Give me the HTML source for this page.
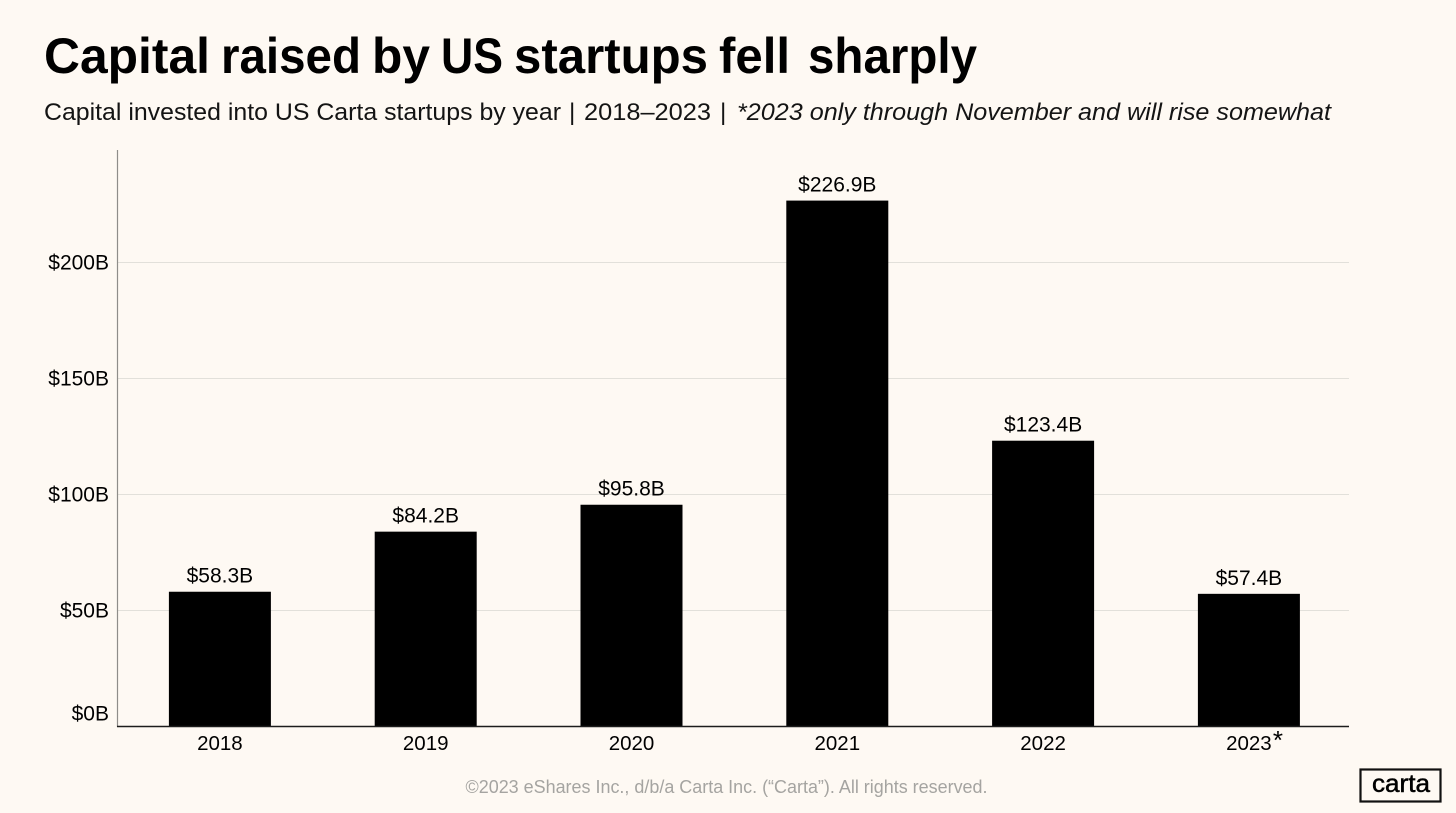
<!DOCTYPE html>
<html lang="en">
<head>
<meta charset="utf-8">
<title>Capital raised by US startups fell sharply</title>
<style>
html,body{margin:0;padding:0;background:#fef9f3;width:1456px;height:813px;overflow:hidden}
svg{display:block}
text{font-family:"Liberation Sans",sans-serif;fill:#000}
</style>
</head>
<body>
<svg id="chart" width="1456" height="813" viewBox="0 0 1456 813" xmlns="http://www.w3.org/2000/svg">
  <rect width="1456" height="813" fill="#fef9f3"/>
  <text y="73" font-size="50" font-weight="700"><tspan x="44" textLength="166" lengthAdjust="spacingAndGlyphs">Capital</tspan> <tspan x="221" textLength="140" lengthAdjust="spacingAndGlyphs">raised</tspan> <tspan x="372" textLength="58" lengthAdjust="spacingAndGlyphs">by</tspan> <tspan x="441" textLength="62" lengthAdjust="spacingAndGlyphs">US</tspan> <tspan x="514" textLength="194" lengthAdjust="spacingAndGlyphs">startups</tspan> <tspan x="719" textLength="71" lengthAdjust="spacingAndGlyphs">fell</tspan> <tspan x="808" textLength="169" lengthAdjust="spacingAndGlyphs">sharply</tspan></text>
  <text y="120" font-size="24.5" style="fill:#141414"><tspan x="44" textLength="517" lengthAdjust="spacingAndGlyphs">Capital invested into US Carta startups by year</tspan> <tspan x="569">|</tspan> <tspan x="584" textLength="127" lengthAdjust="spacingAndGlyphs">2018–2023</tspan> <tspan x="720">|</tspan></text>
  <text x="737" y="120" font-size="24.5" font-style="italic" style="fill:#141414" textLength="594" lengthAdjust="spacingAndGlyphs">*2023 only through November and will rise somewhat</text>
  <g id="grid"></g>
  <g id="bars"></g>
  <g id="value-labels"></g>
  <g id="y-labels"></g>
  <g id="x-labels"></g>
  <line x1="117.5" y1="150" x2="117.5" y2="727" stroke="#8f8d8a" stroke-width="1.2"/>
  <line x1="117" y1="726.5" x2="1349" y2="726.5" stroke="#1c1c1c" stroke-width="1.4"/>
  <text x="726.5" y="793" font-size="18.5" text-anchor="middle" style="fill:#a5a4a1" textLength="522" lengthAdjust="spacingAndGlyphs">©2023 eShares Inc., d/b/a Carta Inc. (“Carta”). All rights reserved.</text>
  <g>
    <rect x="1360.5" y="769.5" width="80" height="32" fill="none" stroke="#111" stroke-width="2.2"/>
    <text x="1372" y="792" font-size="25" style="stroke:#000;stroke-width:0.5" textLength="58" lengthAdjust="spacingAndGlyphs">carta</text>
  </g>
</svg>
<script>
const categories = ["2018", "2019", "2020", "2021", "2022", "2023"];
const seriesValues = [58.3, 84.2, 95.8, 226.9, 123.4, 57.4];
const valueLabels = ["$58.3B", "$84.2B", "$95.8B", "$226.9B", "$123.4B", "$57.4B"];
const yTickValues = [0, 50, 100, 150, 200];
const yTickLabels = ["$0B", "$50B", "$100B", "$150B", "$200B"];

const NS = "http://www.w3.org/2000/svg";
const plotLeft = 117, plotRight = 1351.8, plotBottom = 727, pxPerUnit = 2.32;
const yScale = function (v) { return plotBottom - v * pxPerUnit; };
const step = (plotRight - plotLeft) / categories.length;
const barWidth = 102;
const xCenter = function (i) { return plotLeft + step * (i + 0.5); };

function make(tag, attrs, parent, content) {
  const el = document.createElementNS(NS, tag);
  Object.keys(attrs).forEach(function (k) { el.setAttribute(k, attrs[k]); });
  if (content !== undefined) el.textContent = content;
  document.getElementById(parent).appendChild(el);
  return el;
}

yTickValues.forEach(function (v, i) {
  if (v !== 0) {
    const y = Math.round(yScale(v)) - 0.5;
    const line = make("line", { x1: plotLeft, x2: 1349, y1: y, y2: y, stroke: "#e2e0da", "stroke-width": 1 }, "grid");
    
    
  }
  const labelY = v === 0 ? yScale(v) - 6.5 : yScale(v) + 6.5;
  const tick = make("text", { x: 109, y: labelY, "font-size": 21, "text-anchor": "end" }, "y-labels", yTickLabels[i]);
  
  
});

categories.forEach(function (c, i) {
  const cx = xCenter(i);
  const top = yScale(seriesValues[i]);
  const bar = make("rect", { x: cx - barWidth / 2, y: top, width: barWidth, height: plotBottom - top, fill: "#000" }, "bars");
  
  

  const value = make("text", { x: cx, y: top - 9, "font-size": 21, "text-anchor": "middle" }, "value-labels", valueLabels[i]);
  
  

  const label = make("text", { x: cx, y: 750, "font-size": 20.5, "text-anchor": "middle" }, "x-labels", c);
  
  

  if (i === categories.length - 1) {
    const star = make("text", { x: cx + 29, y: 749, "font-size": 26, "text-anchor": "middle" }, "x-labels", "*");
    
    
  }
});
</script>
</body>
</html>
